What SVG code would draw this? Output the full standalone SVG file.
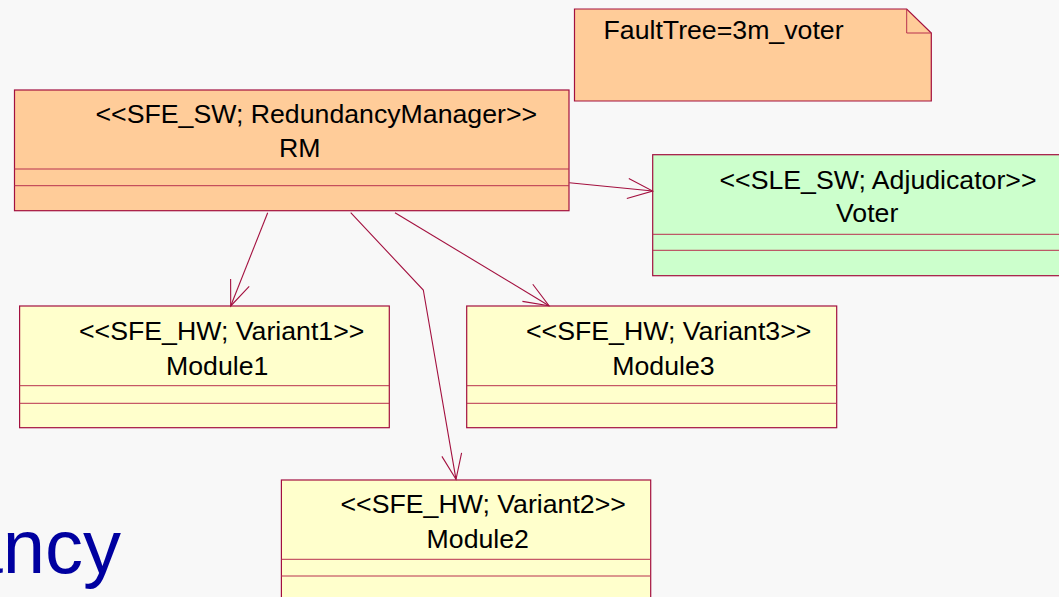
<svg xmlns="http://www.w3.org/2000/svg" width="1059" height="597" viewBox="0 0 1059 597">
  <style>
    .box { stroke: #a3103f; stroke-width: 1.2; }
    .sep { stroke: #b8304e; stroke-width: 1; fill: none; }
    .peach { fill: #ffcc99; }
    .green { fill: #ccffcc; }
    .yellow { fill: #ffffcc; }
    .lbl { font-family: "Liberation Sans", Arial, sans-serif; font-size: 26.7px; fill: #000000; }
    .conn { stroke: #a3103f; stroke-width: 1.1; fill: none; }
    .title { font-family: "Liberation Sans", Arial, sans-serif; font-size: 76px; fill: #0000a0; }
  </style>
  <defs>
    <marker id="open-arrow" markerUnits="userSpaceOnUse" viewBox="-27 -12 30 24" markerWidth="30" markerHeight="24" refX="0" refY="0" orient="auto" overflow="visible">
      <path d="M -25,-10 L 0,0 L -25,10" fill="none" stroke="#a3103f" stroke-width="1.1"/>
    </marker>
  </defs>

  <rect x="0" y="0" width="1059" height="597" fill="#f8f8f8"/>

  <text class="title" x="121" y="573" text-anchor="end">ancy</text>

  <!-- note -->
  <g id="note-faulttree">
    <path class="box peach" d="M574.5,9 L906.7,9 L931.3,33 L931.3,101 L574.5,101 Z"/>
    <path class="sep" d="M906.7,9 L906.7,33 L931.3,33"/>
    <text class="lbl" x="603.5" y="39">FaultTree=3m_voter</text>
  </g>

  <!-- redundancy manager -->
  <g id="node-rm">
    <rect class="box peach" x="14.5" y="90" width="554.5" height="120.7"/>
    <line class="sep" x1="14.5" y1="169" x2="569" y2="169"/>
    <line class="sep" x1="14.5" y1="185.7" x2="569" y2="185.7"/>
    <text class="lbl" x="95.5" y="123.3">&lt;&lt;SFE_SW; RedundancyManager&gt;&gt;</text>
    <text class="lbl" x="279" y="157.3">RM</text>
  </g>

  <!-- voter -->
  <g id="node-voter">
    <rect class="box green" x="652.7" y="154.7" width="420" height="121"/>
    <line class="sep" x1="652.7" y1="234.3" x2="1072" y2="234.3"/>
    <line class="sep" x1="652.7" y1="250.3" x2="1072" y2="250.3"/>
    <text class="lbl" x="719.5" y="188.5">&lt;&lt;SLE_SW; Adjudicator&gt;&gt;</text>
    <text class="lbl" x="836" y="221.5">Voter</text>
  </g>

  <!-- module 1 -->
  <g id="node-module1">
    <rect class="box yellow" x="19.6" y="306" width="369.7" height="121.7"/>
    <line class="sep" x1="19.6" y1="385.7" x2="389.3" y2="385.7"/>
    <line class="sep" x1="19.6" y1="403.3" x2="389.3" y2="403.3"/>
    <text class="lbl" x="79" y="340">&lt;&lt;SFE_HW; Variant1&gt;&gt;</text>
    <text class="lbl" x="166" y="375">Module1</text>
  </g>

  <!-- module 3 -->
  <g id="node-module3">
    <rect class="box yellow" x="466.7" y="306" width="370" height="121.7"/>
    <line class="sep" x1="466.7" y1="385.7" x2="836.7" y2="385.7"/>
    <line class="sep" x1="466.7" y1="403.3" x2="836.7" y2="403.3"/>
    <text class="lbl" x="526" y="340">&lt;&lt;SFE_HW; Variant3&gt;&gt;</text>
    <text class="lbl" x="612.3" y="375">Module3</text>
  </g>

  <!-- module 2 -->
  <g id="node-module2">
    <rect class="box yellow" x="281.4" y="480" width="369.3" height="130"/>
    <line class="sep" x1="281.4" y1="559.3" x2="650.7" y2="559.3"/>
    <line class="sep" x1="281.4" y1="576" x2="650.7" y2="576"/>
    <text class="lbl" x="340.5" y="512.7">&lt;&lt;SFE_HW; Variant2&gt;&gt;</text>
    <text class="lbl" x="426.6" y="547.7">Module2</text>
  </g>

  <!-- associations -->
  <g id="connectors">
    <line class="conn" x1="267.7" y1="212.7" x2="230.7" y2="306" marker-end="url(#open-arrow)"/>
    <polyline class="conn" points="350.7,212.7 423.3,290 456,479.3" marker-end="url(#open-arrow)"/>
    <line class="conn" x1="395" y1="212.7" x2="549" y2="305.7" marker-end="url(#open-arrow)"/>
    <line class="conn" x1="569.3" y1="182.7" x2="652.7" y2="191" marker-end="url(#open-arrow)"/>
  </g>
</svg>
